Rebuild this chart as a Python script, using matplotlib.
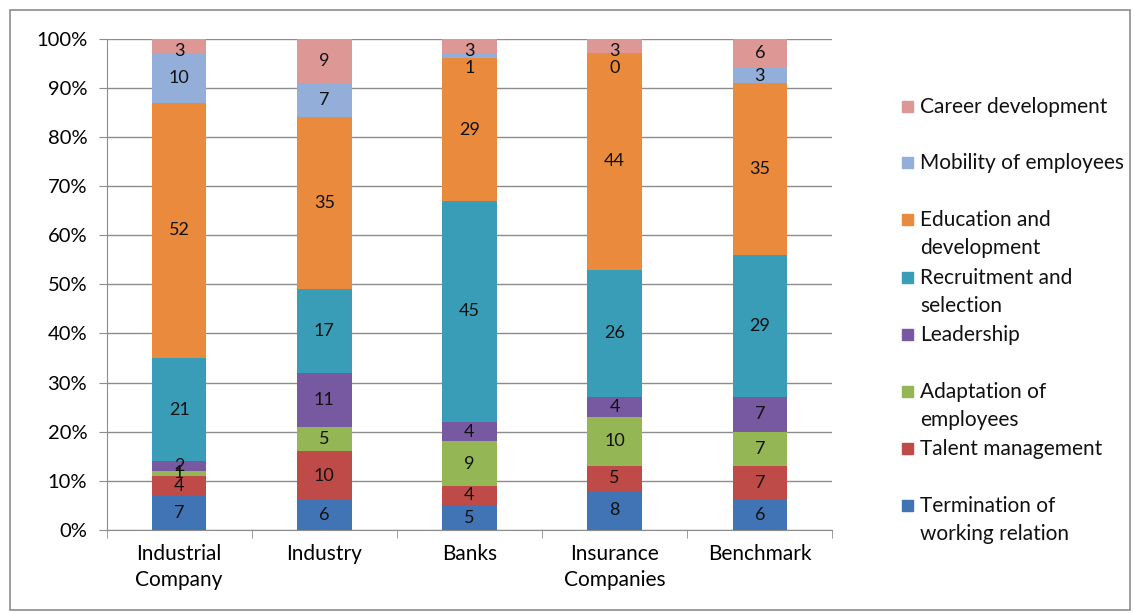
import numpy as np
import matplotlib.pyplot as plt
from matplotlib.patches import Rectangle

plt.rcParams['font.family'] = ['Lato', 'DejaVu Sans']

categories = ["Industrial\nCompany", "Industry", "Banks", "Insurance\nCompanies", "Benchmark"]

# bottom to top
series = ["Termination of\nworking relation", "Talent management", "Adaptation of\nemployees",
          "Leadership", "Recruitment and\nselection", "Education and\ndevelopment",
          "Mobility of employees", "Career development"]
termination = [7, 6, 5, 8, 6]
talent = [4, 10, 4, 5, 7]
adaptation = [1, 5, 9, 10, 7]
leadership = [2, 11, 4, 4, 7]
recruitment = [21, 17, 45, 26, 29]
education = [52, 35, 29, 44, 35]
mobility = [10, 7, 1, 0, 3]
career = [3, 9, 3, 3, 6]

values = [termination, talent, adaptation, leadership, recruitment, education, mobility, career]
colors = ["#4174b4", "#be4b48", "#94b655", "#7659a0", "#3a9db8", "#ea8a3d", "#93afd9", "#dd9896"]

fig = plt.figure(figsize=(11.34, 6.14), dpi=100)
ax = fig.add_axes([0.094, 0.137, 0.64, 0.8])

x = np.arange(len(categories))
data = np.array(values, dtype=float)
bottoms = np.vstack([np.zeros(len(categories)), np.cumsum(data, axis=0)[:-1]])

for vals, bot, col in zip(data, bottoms, colors):
    ax.bar(x, vals, 0.375, bottom=bot, color=col, zorder=3)

# segment labels; crowded ones near the top get pushed down
for j, xi in enumerate(x):
    above = None
    for i in range(len(series) - 1, -1, -1):
        y = min(bottoms[i, j] + data[i, j] / 2, 97.5)
        if above is not None and above - y < 3.5 and y > 80:
            y = above - 3.5
        above = y
        ax.text(xi, y, f"{int(data[i, j])}", ha="center", va="center",
                fontsize=13, color="#111111", zorder=4)

ax.set_xlim(-0.5, len(categories) - 0.5)
ax.set_ylim(0, 100)
ax.set_yticks(np.arange(0, 101, 10))
ax.set_yticklabels([f"{t}%" for t in range(0, 101, 10)], fontsize=14.5)
ax.set_xticks(x)
ax.set_xticklabels(categories, fontsize=15, linespacing=1.4)
ax.set_xticks(np.arange(-0.5, len(categories)), minor=True)
ax.tick_params(axis="x", which="major", length=0, pad=10)
ax.tick_params(axis="x", which="minor", length=6, color="#8c8c8c")
ax.tick_params(axis="y", length=6, color="#8c8c8c", direction="out", pad=8)
ax.grid(axis="y", color="#8c8c8c", linewidth=1, zorder=0)
for side in ["top", "right"]:
    ax.spines[side].set_visible(False)
for side in ["left", "bottom"]:
    ax.spines[side].set_color("#8c8c8c")

# legend, top entry first
legend_y = [107, 163, 220, 278, 335, 392, 449, 506]
for name, col, yy in zip(series[::-1], colors[::-1], legend_y):
    fy = 1 - yy / 614
    fig.add_artist(Rectangle((902 / 1134, fy - 5 / 614), 11 / 1134, 11 / 614,
                             transform=fig.transFigure, color=col))
    ty = fy - 14 / 614 if "\n" in name else fy
    fig.text(920 / 1134, ty, name, ha="left", va="center",
             fontsize=15, color="#111111", linespacing=1.45,
             transform=fig.transFigure)

# outer chart border
fig.add_artist(Rectangle((10 / 1134, 4 / 614), 1120 / 1134, 600 / 614,
                         transform=fig.transFigure, fill=False,
                         edgecolor="#8c8c8c", linewidth=1.2))

fig.savefig("out.png", dpi=100)
